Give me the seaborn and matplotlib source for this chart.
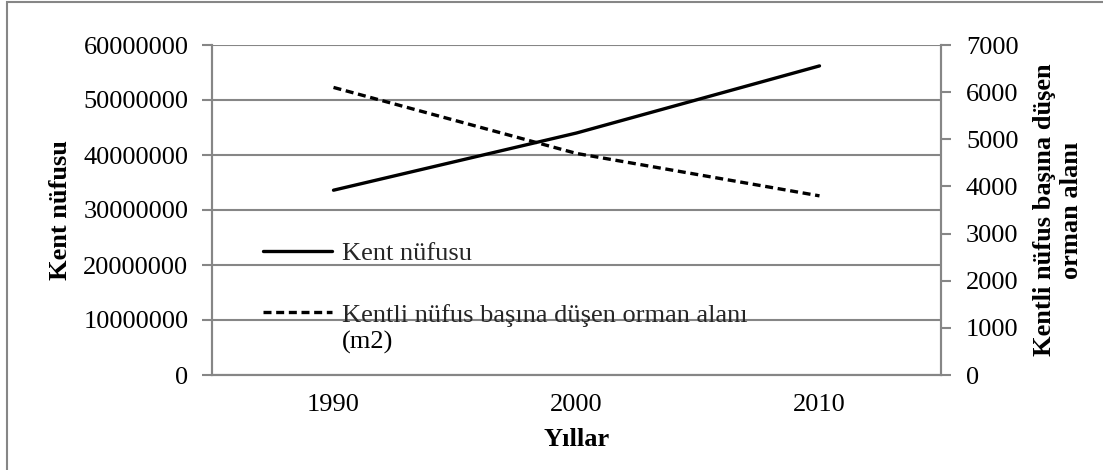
import numpy as np
import pandas as pd
import seaborn as sns
import matplotlib
matplotlib.use('Agg')
import matplotlib.pyplot as plt
from matplotlib.patches import Rectangle

YEARS = ['1990', '2000', '2010']
KENT_NUFUSU = [33600000, 44000000, 56200000]
ORMAN_ALANI = [6100, 4700, 3800]
LEFT_TICKS = [0, 10000000, 20000000, 30000000, 40000000, 50000000, 60000000]
RIGHT_TICKS = [0, 1000, 2000, 3000, 4000, 5000, 6000, 7000]

sns.set_theme(style='white')
plt.rcParams['font.family'] = ['Liberation Serif', 'DejaVu Serif']
plt.rcParams['font.size'] = 19

GRID = '#868686'
FS = 19

df = pd.DataFrame({'pos': np.arange(len(YEARS)),
                   'kent': KENT_NUFUSU,
                   'orman': ORMAN_ALANI})

fig = plt.figure(figsize=(11.03, 4.70), dpi=100)
ax = fig.add_axes([212 / 1103, 1 - 375 / 470, (941 - 212) / 1103, (375 - 45) / 470])
ax2 = ax.twinx()

sns.lineplot(data=df, x='pos', y='kent', ax=ax, color='black', lw=2.4,
             label='Kent nüfusu', legend=False)
sns.lineplot(data=df, x='pos', y='orman', ax=ax2, color='black', lw=2.4,
             linestyle=(0, (2.4, 1.4)), legend=False,
             label='Kentli nüfus başına düşen orman alanı')

ax.set_xlim(-0.5, len(YEARS) - 0.5)
ax.set_ylim(0, 60000000)
ax2.set_ylim(0, 7000)

ax.set_yticks(LEFT_TICKS)
ax.set_yticklabels([str(v) for v in LEFT_TICKS])
ax2.set_yticks(RIGHT_TICKS)
ax2.set_yticklabels([str(v) for v in RIGHT_TICKS])

ax.set_xticks(np.arange(len(YEARS)))
ax.set_xticklabels(YEARS)
ax.set_xticks(np.arange(len(YEARS) + 1) - 0.5, minor=True)
ax.tick_params(axis='x', which='major', length=0, pad=14, labelsize=FS, colors='black')
ax.tick_params(axis='x', which='minor', length=7, width=1.5, color=GRID, direction='out')
ax.tick_params(axis='y', length=7, width=1.5, color=GRID, direction='out',
               labelsize=FS, labelcolor='black', left=True, pad=10)
ax2.tick_params(axis='y', length=7, width=1.5, color=GRID, direction='out',
                labelsize=FS, labelcolor='black', right=True, pad=11)

ax.yaxis.grid(True, color=GRID, lw=1.5)
ax.set_axisbelow(True)

for a in (ax, ax2):
    a.spines['top'].set_visible(False)
    for s in ('left', 'bottom', 'right'):
        a.spines[s].set_color(GRID)
        a.spines[s].set_linewidth(1.5)

ax.set_xlabel('Yıllar', fontsize=FS, fontweight='bold', labelpad=8, color='black')
ax.set_ylabel('Kent nüfusu', fontsize=FS, fontweight='bold', labelpad=8, color='black')
ax2.set_ylabel('Kentli nüfus başına düşen\norman alanı', fontsize=FS,
               fontweight='bold', labelpad=10, color='black', linespacing=1.25)

h1, l1 = ax.get_legend_handles_labels()
h2, l2 = ax2.get_legend_handles_labels()
leg = ax2.legend(h1 + h2, l1 + l2, loc='upper left', bbox_to_anchor=(0.07, 0.405),
                 frameon=False, fontsize=FS, handlelength=2.6, handletextpad=0.4,
                 labelspacing=1.45, borderpad=0, borderaxespad=0)

# second line of the long legend label sits under its text
fig.canvas.draw()
bb = leg.get_texts()[1].get_window_extent().transformed(fig.transFigure.inverted())
fig.text(bb.x0, bb.y0 - 4 / 470, '(m2)', va='top', ha='left', fontsize=FS, color='black')

fig.patches.append(Rectangle((7 / 1103, -0.1), 1.2, 1 - 2 / 470 + 0.1,
                             transform=fig.transFigure, fill=False,
                             edgecolor=GRID, lw=1.5))

plt.savefig('out.png', dpi=100)
